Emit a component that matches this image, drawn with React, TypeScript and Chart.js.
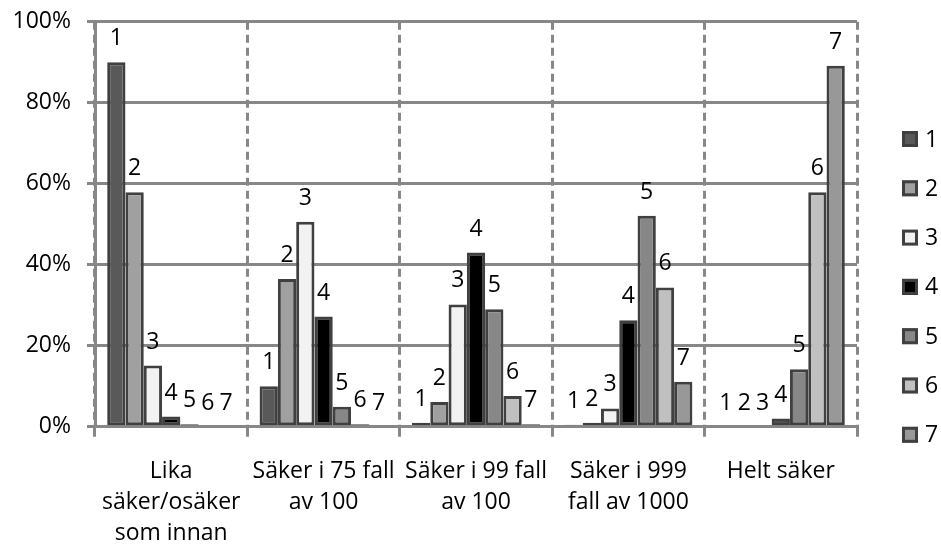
import React, { useEffect, useRef } from 'react';
import { Chart, registerables } from 'chart.js';

Chart.register(...registerables);

// ---- data ----
const categories: string[][] = [
  ['Lika', 'säker/osäker', 'som innan'],
  ['Säker i 75 fall', 'av 100'],
  ['Säker i 99 fall', 'av 100'],
  ['Säker i 999', 'fall av 1000'],
  ['Helt säker'],
];
const seriesNames = ['1', '2', '3', '4', '5', '6', '7'];
const series1 = [90, 10, 1, 0.5, 0];
const series2 = [57.9, 36.5, 6.1, 1, 0];
const series3 = [15.1, 50.6, 30.2, 4.5, 0];
const series4 = [2.5, 27.2, 43, 26.3, 2];
const series5 = [0.6, 4.9, 29, 52.1, 14.2];
const series6 = [0, 0.6, 7.6, 34.4, 57.9];
const series7 = [0, 0, 0.6, 11.1, 89.1];
const yTickValues = [0, 20, 40, 60, 80, 100];
const seriesColors = ['#595959', '#A0A0A0', '#F2F2F2', '#000000', '#878787', '#C0C0C0', '#989898'];

const FONT = "'Open Sans', sans-serif";
const AXIS_GRAY = '#878787';
const BAR_BORDER = '#404040';

const barLabelPlugin = {
  id: 'barLabels',
  afterDatasetsDraw(chart: any) {
    const ctx = chart.ctx;
    ctx.save();
    ctx.font = `23px ${FONT}`;
    ctx.fillStyle = '#000';
    ctx.textAlign = 'center';
    ctx.textBaseline = 'alphabetic';
    chart.data.datasets.forEach((ds: any, i: number) => {
      const meta = chart.getDatasetMeta(i);
      meta.data.forEach((bar: any) => {
        ctx.fillText(ds.label, bar.x, bar.y - 17);
      });
    });
    ctx.restore();
  },
};

const sideLegendPlugin = {
  id: 'sideLegend',
  afterDraw(chart: any) {
    const ctx = chart.ctx;
    const boxLeft = chart.chartArea.right + 45;
    const boxSize = 16;
    const firstY = 139;
    const step = 49.3;
    ctx.save();
    ctx.font = `23px ${FONT}`;
    ctx.textAlign = 'left';
    ctx.textBaseline = 'middle';
    chart.data.datasets.forEach((ds: any, i: number) => {
      const cy = firstY + i * step;
      ctx.fillStyle = ds.backgroundColor;
      ctx.fillRect(boxLeft, cy - boxSize / 2, boxSize, boxSize);
      ctx.strokeStyle = BAR_BORDER;
      ctx.lineWidth = 3;
      ctx.strokeRect(boxLeft + 1.5, cy - boxSize / 2 + 1.5, boxSize - 3, boxSize - 3);
      ctx.fillStyle = '#000';
      ctx.fillText(ds.label, boxLeft + boxSize + 7, cy + 1);
    });
    ctx.restore();
  },
};

export default function App() {
  const canvasRef = useRef<HTMLCanvasElement | null>(null);

  useEffect(() => {
    if (!canvasRef.current) return;
    const allSeries = [series1, series2, series3, series4, series5, series6, series7];
    const chart = new Chart(canvasRef.current, {
      type: 'bar',
      data: {
        labels: categories,
        datasets: allSeries.map((values, i) => ({
          label: seriesNames[i],
          data: values,
          backgroundColor: seriesColors[i],
          borderColor: BAR_BORDER,
          borderWidth: 3,
          borderSkipped: false,
          barPercentage: 1,
          categoryPercentage: 0.84,
        })),
      },
      options: {
        responsive: false,
        animation: false,
        layout: { padding: { left: 0, right: 84, top: 21.7, bottom: 0 } },
        plugins: {
          legend: { display: false },
          tooltip: { enabled: false },
          title: { display: false },
        },
        scales: {
          x: {
            offset: true,
            grid: {
              offset: true,
              color: AXIS_GRAY,
              lineWidth: 3,
              tickLength: 10,
              drawOnChartArea: true,
            },
            border: { display: true, color: AXIS_GRAY, width: 3, dash: [8, 5] },
            ticks: {
              color: '#000',
              font: { family: FONT, size: 23, lineHeight: 1.35 },
              padding: 19,
              maxRotation: 0,
              autoSkip: false,
            },
            afterFit: (scale: any) => {
              scale.height = 124.3;
            },
          },
          y: {
            min: 0,
            max: 100,
            afterBuildTicks: (scale: any) => {
              scale.ticks = yTickValues.map((v) => ({ value: v }));
            },
            grid: { color: AXIS_GRAY, lineWidth: 3, tickLength: 8 },
            border: { display: true, color: AXIS_GRAY, width: 3 },
            ticks: {
              color: '#000',
              font: { family: FONT, size: 23 },
              padding: 16,
              callback: (v: any) => `${v}%`,
            },
            afterFit: (scale: any) => {
              scale.width = 95;
              scale.paddingTop = 0;
              scale.paddingBottom = 0;
            },
          },
        },
      },
      plugins: [barLabelPlugin, sideLegendPlugin],
    });
    return () => chart.destroy();
  }, []);

  return (
    <div style={{ position: 'absolute', left: 0, top: 0, width: 941, height: 551, background: '#fff' }}>
      <canvas ref={canvasRef} width={941} height={551} style={{ display: 'block' }} />
    </div>
  );
}
